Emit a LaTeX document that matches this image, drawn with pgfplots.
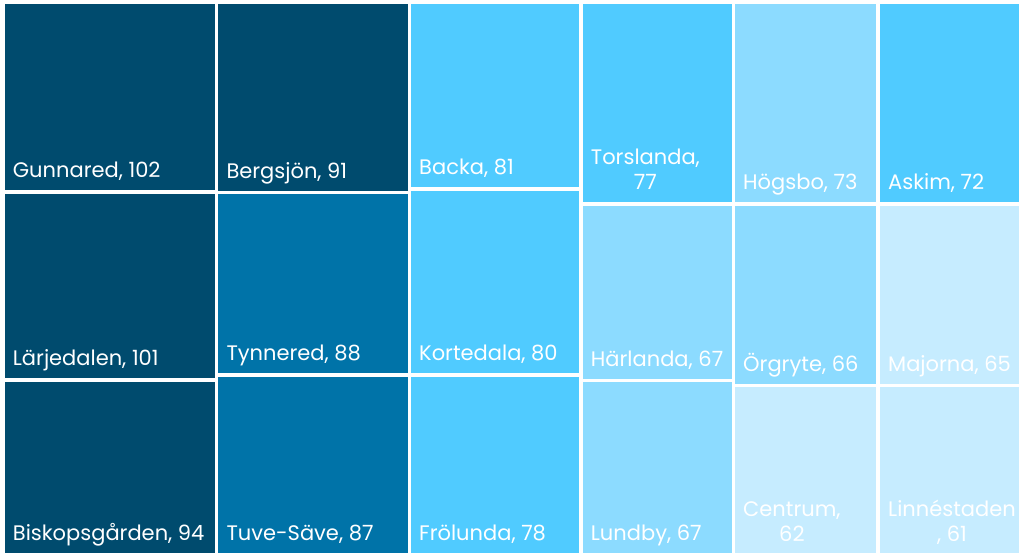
\documentclass[border=0pt]{standalone}
\usepackage{pgfplots}
\pgfplotsset{compat=1.18}
\usepackage{fontspec}
\setmainfont{Poppins}
\definecolor{cDark}{RGB}{0,75,110}
\definecolor{cMed}{RGB}{0,115,168}
\definecolor{cBright}{RGB}{80,203,255}
\definecolor{cLight}{RGB}{140,219,255}
\definecolor{cPale}{RGB}{198,236,255}
\tikzset{lbl/.style={font=\fontsize{21}{25.5}\selectfont, text=white, inner sep=0pt, anchor=base west}}
\begin{document}
\begin{tikzpicture}
\begin{axis}[
  scale only axis, width=1024pt, height=559pt,
  xmin=0, xmax=1024, ymin=0, ymax=559, y dir=reverse,
  hide axis, clip=false,
]
\addplot[fill=white, draw=none] coordinates {(0,0) (1024,0) (1024,559) (0,559)};
% column 1
\addplot[fill=cDark, draw=none] coordinates {(4.7,4.3) (215,4.3) (215,190.3) (4.7,190.3)};
\addplot[fill=cDark, draw=none] coordinates {(4.7,193.7) (215,193.7) (215,378.3) (4.7,378.3)};
\addplot[fill=cDark, draw=none] coordinates {(4.7,381.7) (215,381.7) (215,553.3) (4.7,553.3)};
% column 2
\addplot[fill=cDark, draw=none] coordinates {(218.3,4.3) (407.7,4.3) (407.7,190.7) (218.3,190.7)};
\addplot[fill=cMed, draw=none] coordinates {(218.3,194) (407.7,194) (407.7,373.3) (218.3,373.3)};
\addplot[fill=cMed, draw=none] coordinates {(218.3,376.7) (407.7,376.7) (407.7,553.3) (218.3,553.3)};
% column 3
\addplot[fill=cBright, draw=none] coordinates {(411,4.3) (579.3,4.3) (579.3,187.3) (411,187.3)};
\addplot[fill=cBright, draw=none] coordinates {(411,190.7) (579.3,190.7) (579.3,373.3) (411,373.3)};
\addplot[fill=cBright, draw=none] coordinates {(411,376.7) (579.3,376.7) (579.3,553.3) (411,553.3)};
% column 4
\addplot[fill=cBright, draw=none] coordinates {(582.7,4.3) (731.7,4.3) (731.7,202.3) (582.7,202.3)};
\addplot[fill=cLight, draw=none] coordinates {(582.7,205.7) (731.7,205.7) (731.7,379) (582.7,379)};
\addplot[fill=cLight, draw=none] coordinates {(582.7,382.3) (731.7,382.3) (731.7,553.3) (582.7,553.3)};
% column 5
\addplot[fill=cLight, draw=none] coordinates {(735,4.3) (876,4.3) (876,202.3) (735,202.3)};
\addplot[fill=cLight, draw=none] coordinates {(735,205.7) (876,205.7) (876,384) (735,384)};
\addplot[fill=cPale, draw=none] coordinates {(735,387.3) (876,387.3) (876,553.3) (735,553.3)};
% column 6
\addplot[fill=cBright, draw=none] coordinates {(880,4.3) (1019,4.3) (1019,202.3) (880,202.3)};
\addplot[fill=cPale, draw=none] coordinates {(880,205.7) (1019,205.7) (1019,384) (880,384)};
\addplot[fill=cPale, draw=none] coordinates {(880,387.3) (1019,387.3) (1019,553.3) (880,553.3)};
% labels
\node[lbl] at (axis cs:12.7,177.8) {Gunnared, 102};
\node[lbl] at (axis cs:12.7,365.8) {Lärjedalen, 101};
\node[lbl] at (axis cs:12.7,540.8) {Biskopsgården, 94};
\node[lbl] at (axis cs:226.3,178.2) {Bergsjön, 91};
\node[lbl] at (axis cs:226.3,360.8) {Tynnered, 88};
\node[lbl] at (axis cs:226.3,540.8) {Tuve-Säve, 87};
\node[lbl] at (axis cs:419,174.8) {Backa, 81};
\node[lbl] at (axis cs:419,360.8) {Kortedala, 80};
\node[lbl] at (axis cs:419,540.8) {Frölunda, 78};
\node[lbl, align=center] at (axis cs:590.7,189.8) {Torslanda,\\77};
\node[lbl] at (axis cs:590.7,366.5) {Härlanda, 67};
\node[lbl] at (axis cs:590.7,540.8) {Lundby, 67};
\node[lbl] at (axis cs:743,189.8) {Högsbo, 73};
\node[lbl] at (axis cs:743,371.5) {Örgryte, 66};
\node[lbl, align=center] at (axis cs:743,541.7) {Centrum,\\62};
\node[lbl] at (axis cs:888,189.8) {Askim, 72};
\node[lbl] at (axis cs:888,371.5) {Majorna, 65};
\node[lbl, align=center] at (axis cs:888,541.7) {Linnéstaden\\, 61};
\end{axis}
\end{tikzpicture}
\end{document}
